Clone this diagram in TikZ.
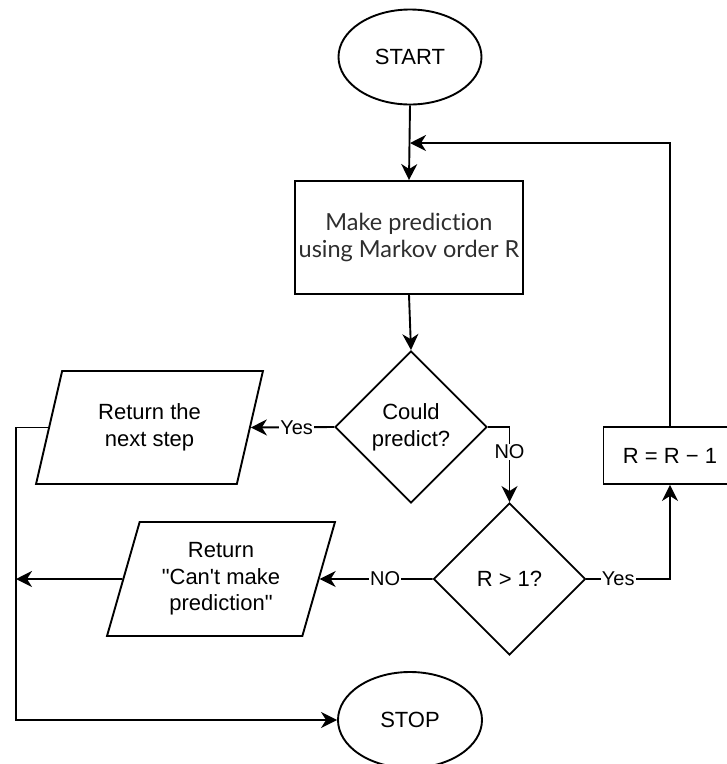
\documentclass[tikz,border=0pt]{standalone}
\usepackage{fontspec}
\setmainfont{Liberation Sans}[Ligatures=TeXOff]
\newfontfamily\latofont{Lato}[Ligatures={TeXOff,NoCommon}]
\usetikzlibrary{shapes.geometric,arrows.meta}
\definecolor{boxtext}{HTML}{2E2E2E}
\tikzset{
  base/.style={draw=black, line width=1.9pt, inner sep=0pt, align=center, font=\fontsize{22}{26.7}\selectfont},
  term/.style={base, ellipse},
  procbox/.style={base, rectangle},
  decide/.style={base, diamond, aspect=1},
  iobox/.style={base, trapezium, trapezium left angle=72, trapezium right angle=108, trapezium stretches=true},
  conn/.style={line width=1.9pt, -{Stealth[length=16pt,width=16pt,inset=5pt]}},
  lbl/.style={fill=white, inner sep=1pt, font=\fontsize{20}{22}\selectfont}
}
\begin{document}
\begin{tikzpicture}[x=1pt,y=-1pt]
\useasboundingbox (0,0) rectangle (727,764);
\node[term, minimum width=143pt, minimum height=95pt] (start) at (410,57) {START};
\node[procbox, minimum width=228pt, minimum height=113pt, font=\latofont\fontsize{23.5}{26.7}\selectfont, text=boxtext] (make) at (409,237.5) {Make prediction\\using Markov order R};
\node[decide, minimum width=152pt, minimum height=152pt] (could) at (411,427) {Could\\predict?};
\node[iobox, minimum width=227pt, minimum height=113pt] (ret1) at (149.5,427.5) {Return the\\next step};
\node[decide, minimum width=152pt, minimum height=152pt] (rcheck) at (509.5,579) {R > 1?};
\node[iobox, minimum width=228pt, minimum height=114pt] (ret2) at (221,579) {Return\\"Can't make\\prediction"};
\node[procbox, minimum width=133pt, minimum height=57pt] (dec) at (670,455.5) {R = R − 1};
\node[term, minimum width=144pt, minimum height=96pt] (stop) at (410,720) {STOP};
\coordinate (join) at (410,143);
\coordinate (leftrail) at (16,579);
\coordinate (railbottom) at (16,720);
\draw[conn] (start.south) -- (make.north);
\draw[conn] (dec.north) |- (join);
\draw[conn] (make.south) -- (could.north);
\draw[conn] (could.west) -- node[lbl, pos=0.45] {Yes} (ret1.east);
\draw[conn] (could.east) -| node[lbl, pos=0.665] {NO} (rcheck.north);
\draw[conn] (rcheck.east) -| node[lbl, pos=0.19] {Yes} (dec.south);
\draw[conn] (rcheck.west) -- node[lbl, pos=0.42] {NO} (ret2.east);
\draw[conn] (ret2.west) -- (leftrail);
\draw[conn] (ret1.west) -| (railbottom) -- (stop.west);
\end{tikzpicture}
\end{document}
